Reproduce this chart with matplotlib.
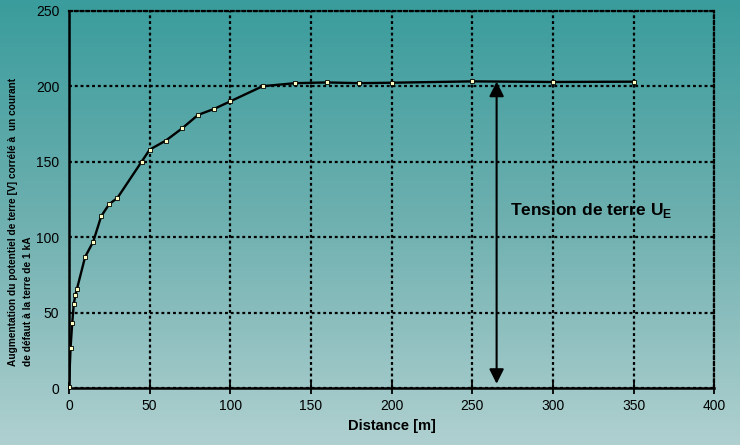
import matplotlib
matplotlib.use("Agg")
import matplotlib.pyplot as plt
import numpy as np
from matplotlib.colors import LinearSegmentedColormap

plt.rcParams["font.family"] = ["Liberation Sans", "DejaVu Sans"]
plt.rcParams["mathtext.fontset"] = "custom"
plt.rcParams["mathtext.rm"] = "Liberation Sans"
plt.rcParams["mathtext.bf"] = "Liberation Sans:bold"

# mesures : distance [m] / augmentation du potentiel [V]
distance = [0, 1, 2, 3, 4, 5, 10, 15, 20, 25, 30, 45, 50, 60, 70, 80, 90, 100,
            120, 140, 160, 180, 200, 250, 300, 350]
potentiel = [1, 27, 43, 56, 62, 66, 87, 97, 114, 122, 126, 150, 158, 164, 172,
             181, 185, 190, 200, 202, 202.5, 202, 202.3, 203.2, 202.8, 203]

x_ticks = [0, 50, 100, 150, 200, 250, 300, 350, 400]
y_ticks = [0, 50, 100, 150, 200, 250]

fig = plt.figure(figsize=(7.4, 4.45), dpi=100)

# fond en dégradé
bg = fig.add_axes([0, 0, 1, 1], zorder=-1)
cmap = LinearSegmentedColormap.from_list("bg", ["#3a9c9c", "#6fb0b0", "#b0d0d0"])
bg.imshow(np.linspace(0, 1, 256).reshape(-1, 1), aspect="auto", cmap=cmap,
          extent=[0, 1, 0, 1])
bg.axis("off")

ax = fig.add_axes([0.0932, 0.1274, 0.8723, 0.8486])
ax.patch.set_alpha(0)

ax.plot(distance, potentiel, color="black", lw=1.7, marker="s", ms=3.2,
        mfc="#ffffc0", mec="black", mew=0.6, zorder=3)

ax.set_xlim(0, 400)
ax.set_ylim(0, 250)
ax.set_xticks(x_ticks)
ax.set_yticks(y_ticks)
ax.grid(True, color="black", linestyle=(0, (1.3, 1.3)), lw=1.6)
ax.tick_params(axis="x", direction="inout", length=8, width=1.3, labelsize=10, pad=4)
ax.tick_params(axis="y", length=0, labelsize=10, pad=7)

for side in ["left", "bottom"]:
    ax.spines[side].set_linewidth(1.8)
for side in ["top", "right"]:
    ax.spines[side].set_linestyle((0, (1.3, 1.3)))
    ax.spines[side].set_linewidth(1.6)

ax.set_xlabel("Distance [m]", fontsize=10.5, fontweight="bold", labelpad=4)

# titre de l'axe y sur deux lignes, alignées au début
fig.text(13.5 / 740, 1 - 366 / 445,
         "Augmentation du potentiel de terre [V] corrélé à  un courant",
         rotation=90, fontsize=7.3, fontweight="bold", ha="center", va="bottom")
fig.text(28.5 / 740, 1 - 366 / 445, "de défaut à la terre de 1 kA",
         rotation=90, fontsize=7.3, fontweight="bold", ha="center", va="bottom")

# flèche tension de terre
ax.annotate("", xy=(265, 203), xytext=(265, 3),
            arrowprops=dict(arrowstyle="<|-|>", color="black", lw=1.5,
                            mutation_scale=22, shrinkA=0, shrinkB=0))
ax.text(273, 118, r"Tension de terre U$_{\mathbf{E}}$", fontsize=12.5,
        fontweight="bold", va="center", ha="left")

fig.savefig("out.png", dpi=100)
